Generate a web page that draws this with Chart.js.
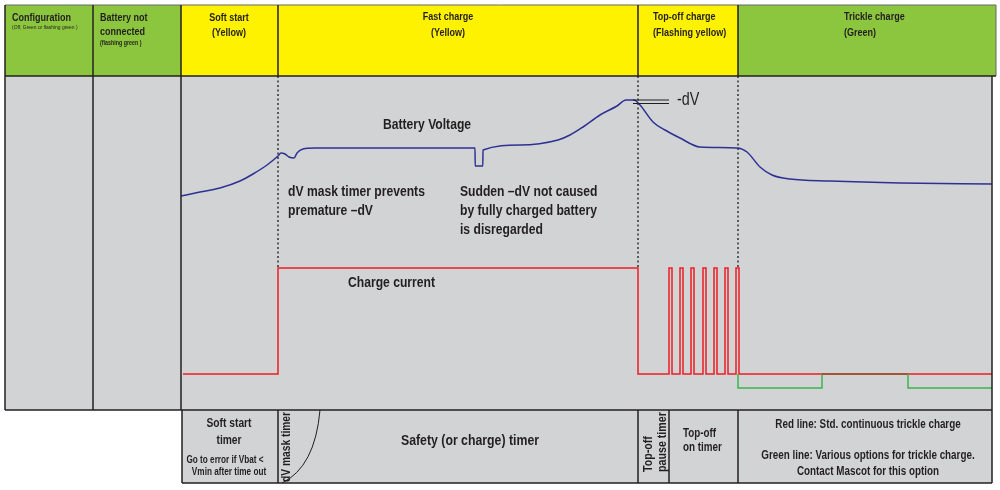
<!DOCTYPE html>
<html><head><meta charset="utf-8">
<script src="https://cdn.jsdelivr.net/npm/chart.js@4"></script>
<style>html,body{margin:0;padding:0;background:#fff;overflow:hidden}canvas{display:block}</style>
</head><body>
<canvas id="c" width="1000" height="490"></canvas>
<script>
// ---- data (time units on x, signal level on y) ----
const phaseEdges = [0, 8.8, 17.6, 27.3, 63.3, 73.3, 98.7];
const phaseColors = ['#8cc63f', '#8cc63f', '#fff200', '#fff200', '#fff200', '#8cc63f'];
const timerEdges = [17.7, 27.3, 63.3, 66.4, 73.3, 98.7];

const voltageT = [17.6, 19.5, 21.5, 23.5, 24.8, 26.2, 27.3, 27.6, 28.0, 28.4, 28.9, 29.2, 29.8, 31.0, 47.0, 47.02, 47.78, 47.8, 51.5, 55.3, 56.5, 57.8, 59.5, 61.2, 62.1, 62.9, 63.5, 64.8, 66.0, 67.5, 69.5, 73.2, 74.2, 75.5, 76.7, 78.5, 82.5, 89.5, 98.7];
const voltageV = [21.4, 21.8, 22.2, 22.9, 23.6, 24.5, 25.4, 25.7, 25.6, 25.3, 25.2, 25.7, 26.1, 26.2, 26.2, 24.4, 24.4, 26.0, 26.5, 27.0, 27.5, 28.3, 29.5, 30.4, 31.0, 31.0, 30.5, 28.8, 28.0, 27.2, 26.3, 26.2, 25.8, 24.3, 23.5, 23.1, 22.9, 22.7, 22.6];

const currentT = [17.8, 27.3, 27.3, 63.3, 63.3, 66.4, 66.4, 66.7, 66.7, 67.5, 67.5, 67.8, 67.8, 68.6, 68.6, 68.9, 68.9, 69.8, 69.8, 70.1, 70.1, 70.9, 70.9, 71.2, 71.2, 72.0, 72.0, 72.3, 72.3, 73.1, 73.1, 73.4, 73.4, 98.8];
const currentV = [3.6, 3.6, 14.2, 14.2, 3.6, 3.6, 14.2, 14.2, 3.6, 3.6, 14.2, 14.2, 3.6, 3.6, 14.2, 14.2, 3.6, 3.6, 14.2, 14.2, 3.6, 3.6, 14.2, 14.2, 3.6, 3.6, 14.2, 14.2, 3.6, 3.6, 14.2, 14.2, 3.6, 3.6];

const trickleT = [73.3, 73.3, 81.7, 81.7, 90.3, 90.3, 98.7];
const trickleV = [3.6, 2.2, 2.2, 3.6, 3.6, 2.2, 2.2];
const trickleRedLevel = 3.6;

const markerT = [27.3, 63.3, 73.3];
const markerTop = 33.4, markerBottom = 14.2;

const pts = (xs, ys) => xs.map((x, i) => ({x, y: ys[i]}));

const FONT = '"Liberation Sans",Arial,sans-serif';
const SX = 0.82; // condensed (Arial Narrow look)
const INK = '#231f20';

// text labels (pixel layout, not data)
const labels = [
  {t:'Configuration', x:12, y:18, s:11, b:1, a:'left'},
  {t:'(Off, Green or flashing green )', x:12, y:27, s:6, b:0, a:'left'},
  {t:'Battery not', x:100, y:18, s:11, b:1, a:'left'},
  {t:'connected', x:100, y:32, s:11, b:1, a:'left'},
  {t:'(flashing green )', x:100, y:43, s:6.5, b:1, a:'left'},
  {t:'Soft start', x:229, y:18, s:11, b:1, a:'center'},
  {t:'(Yellow)', x:229, y:33, s:11, b:1, a:'center'},
  {t:'Fast charge', x:448, y:17, s:11, b:1, a:'center'},
  {t:'(Yellow)', x:448, y:33, s:11, b:1, a:'center'},
  {t:'Top-off charge', x:653, y:17, s:11, b:1, a:'left'},
  {t:'(Flashing yellow)', x:653, y:33, s:11, b:1, a:'left'},
  {t:'Trickle charge', x:844, y:17, s:11, b:1, a:'left'},
  {t:'(Green)', x:844, y:33, s:11, b:1, a:'left'},
  {t:'Battery Voltage', x:427, y:125, s:14.8, b:1, a:'center'},
  {t:'dV mask timer prevents', x:288, y:192, s:14.8, b:1, a:'left'},
  {t:'premature \u2013dV', x:288, y:211, s:14.8, b:1, a:'left'},
  {t:'Sudden \u2013dV not caused', x:460, y:192, s:14.8, b:1, a:'left'},
  {t:'by fully charged battery', x:460, y:211, s:14.8, b:1, a:'left'},
  {t:'is disregarded', x:460, y:230, s:14.8, b:1, a:'left'},
  {t:'Charge current', x:348, y:283, s:14.8, b:1, a:'left'},
  {t:'-dV', x:677, y:100, s:17.5, b:0, a:'left'},
  {t:'Soft start', x:229, y:424, s:12.5, b:1, a:'center'},
  {t:'timer', x:229, y:441, s:12.5, b:1, a:'center'},
  {t:'Go to error if Vbat <', x:225, y:460, s:10, b:1, a:'center'},
  {t:'Vmin after time out', x:229, y:472, s:10, b:1, a:'center'},
  {t:'Safety (or charge) timer', x:470, y:441, s:15, b:1, a:'center'},
  {t:'Top-off', x:683, y:434, s:12, b:1, a:'left'},
  {t:'on timer', x:683, y:448, s:12, b:1, a:'left'},
  {t:'Red line: Std. continuous trickle charge', x:868, y:425, s:12, b:1, a:'center'},
  {t:'Green line: Various options for trickle charge.', x:868, y:456, s:12, b:1, a:'center'},
  {t:'Contact Mascot for this option', x:868, y:472, s:12, b:1, a:'center'},
  {t:'dV mask timer', x:287, y:447, s:12.5, b:1, a:'center', r:1},
  {t:'Top-off', x:648, y:472, s:13, b:1, a:'left', r:1},
  {t:'pause timer', x:662, y:472, s:13, b:1, a:'left', r:1}
];

const HEAD_TOP = 5, BOTTOM = 483, HEAD_RIGHT_PAD = 4;

const frame = {
  id: 'frame',
  beforeDraw(chart) {
    const {ctx} = chart;
    ctx.save();
    ctx.fillStyle = '#fff';
    ctx.fillRect(0, 0, chart.width, chart.height);
    ctx.restore();
  },
  beforeDatasetsDraw(chart) {
    const {ctx, chartArea: ca, scales: {x}} = chart;
    ctx.save();
    for (let i = 0; i < phaseColors.length; i++) {
      const x0 = x.getPixelForValue(phaseEdges[i]);
      let x1 = x.getPixelForValue(phaseEdges[i + 1]);
      if (i === phaseColors.length - 1) x1 += HEAD_RIGHT_PAD;
      ctx.fillStyle = phaseColors[i];
      ctx.fillRect(x0, HEAD_TOP, x1 - x0, ca.top - HEAD_TOP);
    }
    ctx.fillStyle = '#d1d3d4';
    ctx.fillRect(ca.left, ca.top, ca.right - ca.left, ca.bottom - ca.top);
    const t0 = x.getPixelForValue(timerEdges[0]);
    ctx.fillRect(t0, ca.bottom, ca.right - t0, BOTTOM - ca.bottom);
    ctx.restore();
  },
  afterDatasetsDraw(chart) {
    const {ctx, chartArea: ca, scales: {x, y}} = chart;
    ctx.save();
    ctx.strokeStyle = INK;
    ctx.lineWidth = 1.5;
    const line = (x0, y0, x1, y1) => { ctx.beginPath(); ctx.moveTo(x0, y0); ctx.lineTo(x1, y1); ctx.stroke(); };
    const hr = x.getPixelForValue(phaseEdges[phaseEdges.length - 1]) + HEAD_RIGHT_PAD;
    ctx.strokeStyle = '#666';
    ctx.lineWidth = 1;
    line(ca.left, HEAD_TOP, hr, HEAD_TOP);
    line(hr, HEAD_TOP, hr, ca.top);
    ctx.strokeStyle = INK;
    ctx.lineWidth = 1.5;
    line(ca.left, HEAD_TOP, ca.left, ca.top);
    line(ca.left, ca.top, hr, ca.top);
    for (let i = 1; i < phaseEdges.length - 1; i++) {
      const px = x.getPixelForValue(phaseEdges[i]);
      line(px, HEAD_TOP, px, ca.top);
      if (i <= 2) line(px, ca.top, px, ca.bottom);
    }
    line(ca.left, ca.top, ca.left, ca.bottom);
    line(ca.right, ca.top, ca.right, BOTTOM);
    line(ca.left, ca.bottom, ca.right, ca.bottom);
    const t0 = x.getPixelForValue(timerEdges[0]);
    line(t0, ca.bottom, t0, BOTTOM);
    line(t0, BOTTOM, ca.right, BOTTOM);
    for (let i = 1; i < timerEdges.length - 1; i++) {
      const px = x.getPixelForValue(timerEdges[i]);
      line(px, ca.bottom, px, BOTTOM);
    }
    ctx.lineWidth = 1;
    const m = x.getPixelForValue(timerEdges[1]);
    ctx.beginPath();
    ctx.moveTo(m + 42, ca.bottom);
    ctx.quadraticCurveTo(m + 37, 467, m + 4, BOTTOM);
    ctx.stroke();
    const peakIdx = voltageV.indexOf(Math.max(...voltageV));
    const pkx = x.getPixelForValue(voltageT[peakIdx + 1]) - 1;
    const pky = y.getPixelForValue(voltageV[peakIdx]);
    ctx.lineWidth = 1.2;
    line(pkx, pky, pkx + 36, pky);
    line(pkx, pky + 3.5, pkx + 36, pky + 3.5);
    ctx.fillStyle = INK;
    ctx.textBaseline = 'middle';
    for (const l of labels) {
      ctx.font = (l.b ? 'bold ' : '') + l.s + 'px ' + FONT;
      ctx.textAlign = l.a;
      ctx.save();
      ctx.translate(l.x, l.y);
      if (l.r) ctx.rotate(-Math.PI / 2);
      ctx.scale(SX, 1);
      ctx.fillText(l.t, 0, 0);
      ctx.restore();
    }
    ctx.restore();
  }
};

const datasets = [
  {data: pts(voltageT, voltageV), borderColor: '#2e3192', borderWidth: 1.5, cubicInterpolationMode: 'monotone'},
  {data: pts(trickleT, trickleV), borderColor: '#39b54a', borderWidth: 1.5,
   segment: {borderColor: c => (c.p0.parsed.y === trickleRedLevel && c.p1.parsed.y === trickleRedLevel) ? '#8b5a2b' : undefined}},
  {data: pts(currentT, currentV), borderColor: '#ed1c24', borderWidth: 1.5},
  ...markerT.map(t => ({data: [{x: t, y: markerTop}, {x: t, y: markerBottom}], borderColor: '#333', borderWidth: 1.5, borderDash: [2, 2.5]}))
];

new Chart(document.getElementById('c'), {
  type: 'line',
  data: {datasets},
  options: {
    responsive: false,
    animation: false,
    events: [],
    layout: {padding: {left: 5, right: 8, top: 76, bottom: 80}},
    elements: {point: {radius: 0}, line: {tension: 0, fill: false}},
    scales: {
      x: {type: 'linear', min: 0, max: 98.7, display: false},
      y: {type: 'linear', min: 0, max: 33.4, display: false}
    },
    plugins: {legend: {display: false}, tooltip: {enabled: false}}
  },
  plugins: [frame]
});
</script>
</body></html>
